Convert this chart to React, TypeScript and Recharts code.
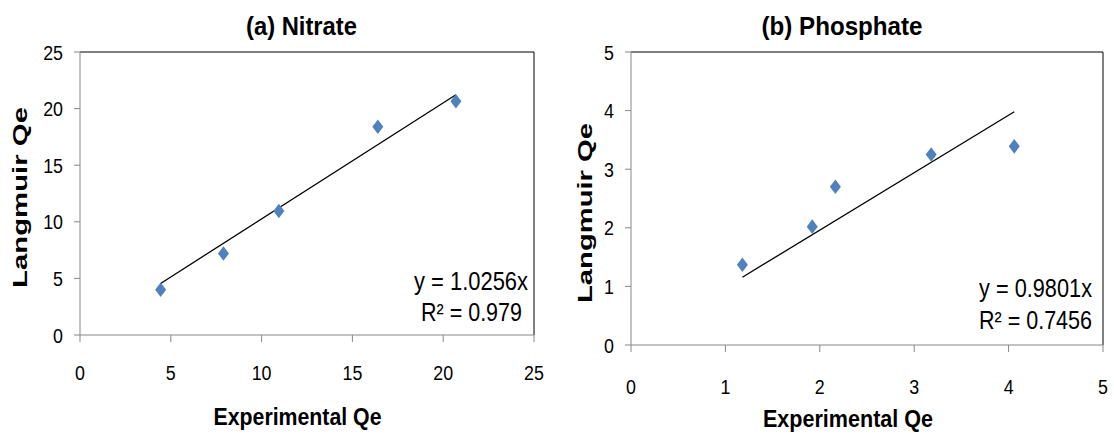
import { ScatterChart, Scatter, XAxis, YAxis, ReferenceLine } from "recharts"

// (a) Nitrate
const nitrateX = [4.44, 7.9, 10.95, 16.4, 20.7]
const nitrateY = [4.0, 7.2, 10.95, 18.4, 20.65]
const nitrateSlope = 1.0256
const nitrateTicks = [0, 5, 10, 15, 20, 25]

// (b) Phosphate
const phosphateX = [1.18, 1.92, 2.165, 3.18, 4.06]
const phosphateY = [1.37, 2.02, 2.7, 3.25, 3.39]
const phosphateSlope = 0.9801
const phosphateTicks = [0, 1, 2, 3, 4, 5]

const FONT = "'Liberation Sans', Arial, sans-serif"
const BLUE = "#4F81BD"
const AXIS = "#878787"

const toPoints = (xs: number[], ys: number[]) => xs.map((x, i) => ({ x, y: ys[i] }))

// regression line through origin, drawn over the data's x range
const trendLine = (xs: number[], slope: number) => {
  const lo = Math.min(...xs)
  const hi = Math.max(...xs)
  return [
    { x: lo, y: lo * slope },
    { x: hi, y: hi * slope },
  ]
}

const Diamond = (p: any) => (
  <path
    d={`M${p.cx},${p.cy - 7.3}L${p.cx + 5.5},${p.cy}L${p.cx},${p.cy + 7.3}L${p.cx - 5.5},${p.cy}Z`}
    fill={BLUE}
  />
)

const XTick = ({ x, y, payload, dy }: any) => (
  <text
    transform={`translate(${x},${y + dy}) scale(0.85,1)`}
    textAnchor="middle"
    fontFamily={FONT}
    fontSize={21}
    fill="#000"
  >
    {payload.value}
  </text>
)

const YTick = ({ x, y, payload }: any) => (
  <text
    transform={`translate(${x},${y + 7.5}) scale(0.85,1)`}
    textAnchor="end"
    fontFamily={FONT}
    fontSize={21}
    fill="#000"
  >
    {payload.value}
  </text>
)

interface TxtProps {
  x: number
  y: number
  w: number
  size: number
  bold?: boolean
  rotate?: boolean
  children: string
}

function Txt({ x, y, w, size, bold, rotate, children }: TxtProps) {
  return (
    <text
      transform={`translate(${x},${y})${rotate ? " rotate(-90)" : ""}`}
      textAnchor="middle"
      fontFamily={FONT}
      fontWeight={bold ? "bold" : "normal"}
      fontSize={size}
      textLength={w}
      lengthAdjust="spacingAndGlyphs"
      fill="#000"
    >
      {children}
    </text>
  )
}

interface PanelProps {
  left: number
  width: number
  yAxisWidth: number
  xAxisHeight: number
  marginRight: number
  max: number
  ticks: number[]
  xs: number[]
  ys: number[]
  slope: number
  xTickDy: number
}

function Panel(props: PanelProps) {
  const { left, width, yAxisWidth, xAxisHeight, marginRight, max, ticks, xs, ys, slope, xTickDy } = props
  return (
    <div style={{ position: "absolute", left, top: 0 }}>
      <ScatterChart width={width} height={434} margin={{ top: 52, right: marginRight, bottom: 0, left: 0 }}>
        <XAxis
          type="number"
          dataKey="x"
          domain={[0, max]}
          ticks={ticks}
          interval={0}
          height={xAxisHeight}
          axisLine={{ stroke: AXIS }}
          tickLine={{ stroke: AXIS }}
          tickSize={7}
          tickMargin={1}
          tick={(p: any) => <XTick {...p} dy={xTickDy} />}
        />
        <YAxis
          type="number"
          dataKey="y"
          domain={[0, max]}
          ticks={ticks}
          interval={0}
          width={yAxisWidth}
          axisLine={{ stroke: AXIS }}
          tickLine={{ stroke: AXIS }}
          tickSize={6}
          tickMargin={11}
          tick={(p: any) => <YTick {...p} />}
        />
        <ReferenceLine y={max} stroke="#000" strokeWidth={1} />
        <ReferenceLine x={max} stroke="#000" strokeWidth={1} />
        <Scatter
          data={trendLine(xs, slope)}
          line={{ stroke: "#000", strokeWidth: 1.3 }}
          shape={() => <g />}
          isAnimationActive={false}
        />
        <Scatter data={toPoints(xs, ys)} shape={Diamond} isAnimationActive={false} />
      </ScatterChart>
    </div>
  )
}

export default function App() {
  return (
    <div style={{ position: "absolute", left: 0, top: 0, width: 1114, height: 434, background: "#fff" }}>
      <Panel
        left={0}
        width={560}
        yAxisWidth={80}
        xAxisHeight={99}
        marginRight={26}
        max={25}
        ticks={nitrateTicks}
        xs={nitrateX}
        ys={nitrateY}
        slope={nitrateSlope}
        xTickDy={37}
      />
      <Panel
        left={560}
        width={554}
        yAxisWidth={71}
        xAxisHeight={89}
        marginRight={11}
        max={5}
        ticks={phosphateTicks}
        xs={phosphateX}
        ys={phosphateY}
        slope={phosphateSlope}
        xTickDy={40.5}
      />
      <svg
        width={1114}
        height={434}
        style={{ position: "absolute", left: 0, top: 0, pointerEvents: "none" }}
      >
        <Txt x={301.5} y={35} w={111} size={25.5} bold>(a) Nitrate</Txt>
        <Txt x={842} y={35} w={161} size={25.5} bold>(b) Phosphate</Txt>
        <Txt x={26.7} y={197.5} w={181} size={19.5} bold rotate>Langmuir Qe</Txt>
        <Txt x={591.7} y={213} w={180} size={19.5} bold rotate>Langmuir Qe</Txt>
        <Txt x={297.5} y={425} w={168} size={23.5} bold>Experimental Qe</Txt>
        <Txt x={848} y={426.7} w={170} size={23.5} bold>Experimental Qe</Txt>
        <Txt x={471} y={290} w={114} size={25.5}>y = 1.0256x</Txt>
        <Txt x={471.5} y={321} w={101} size={25.5}>R² = 0.979</Txt>
        <Txt x={1035.5} y={296.7} w={113} size={25.5}>y = 0.9801x</Txt>
        <Txt x={1035.5} y={329} w={113} size={25.5}>R² = 0.7456</Txt>
      </svg>
    </div>
  )
}
